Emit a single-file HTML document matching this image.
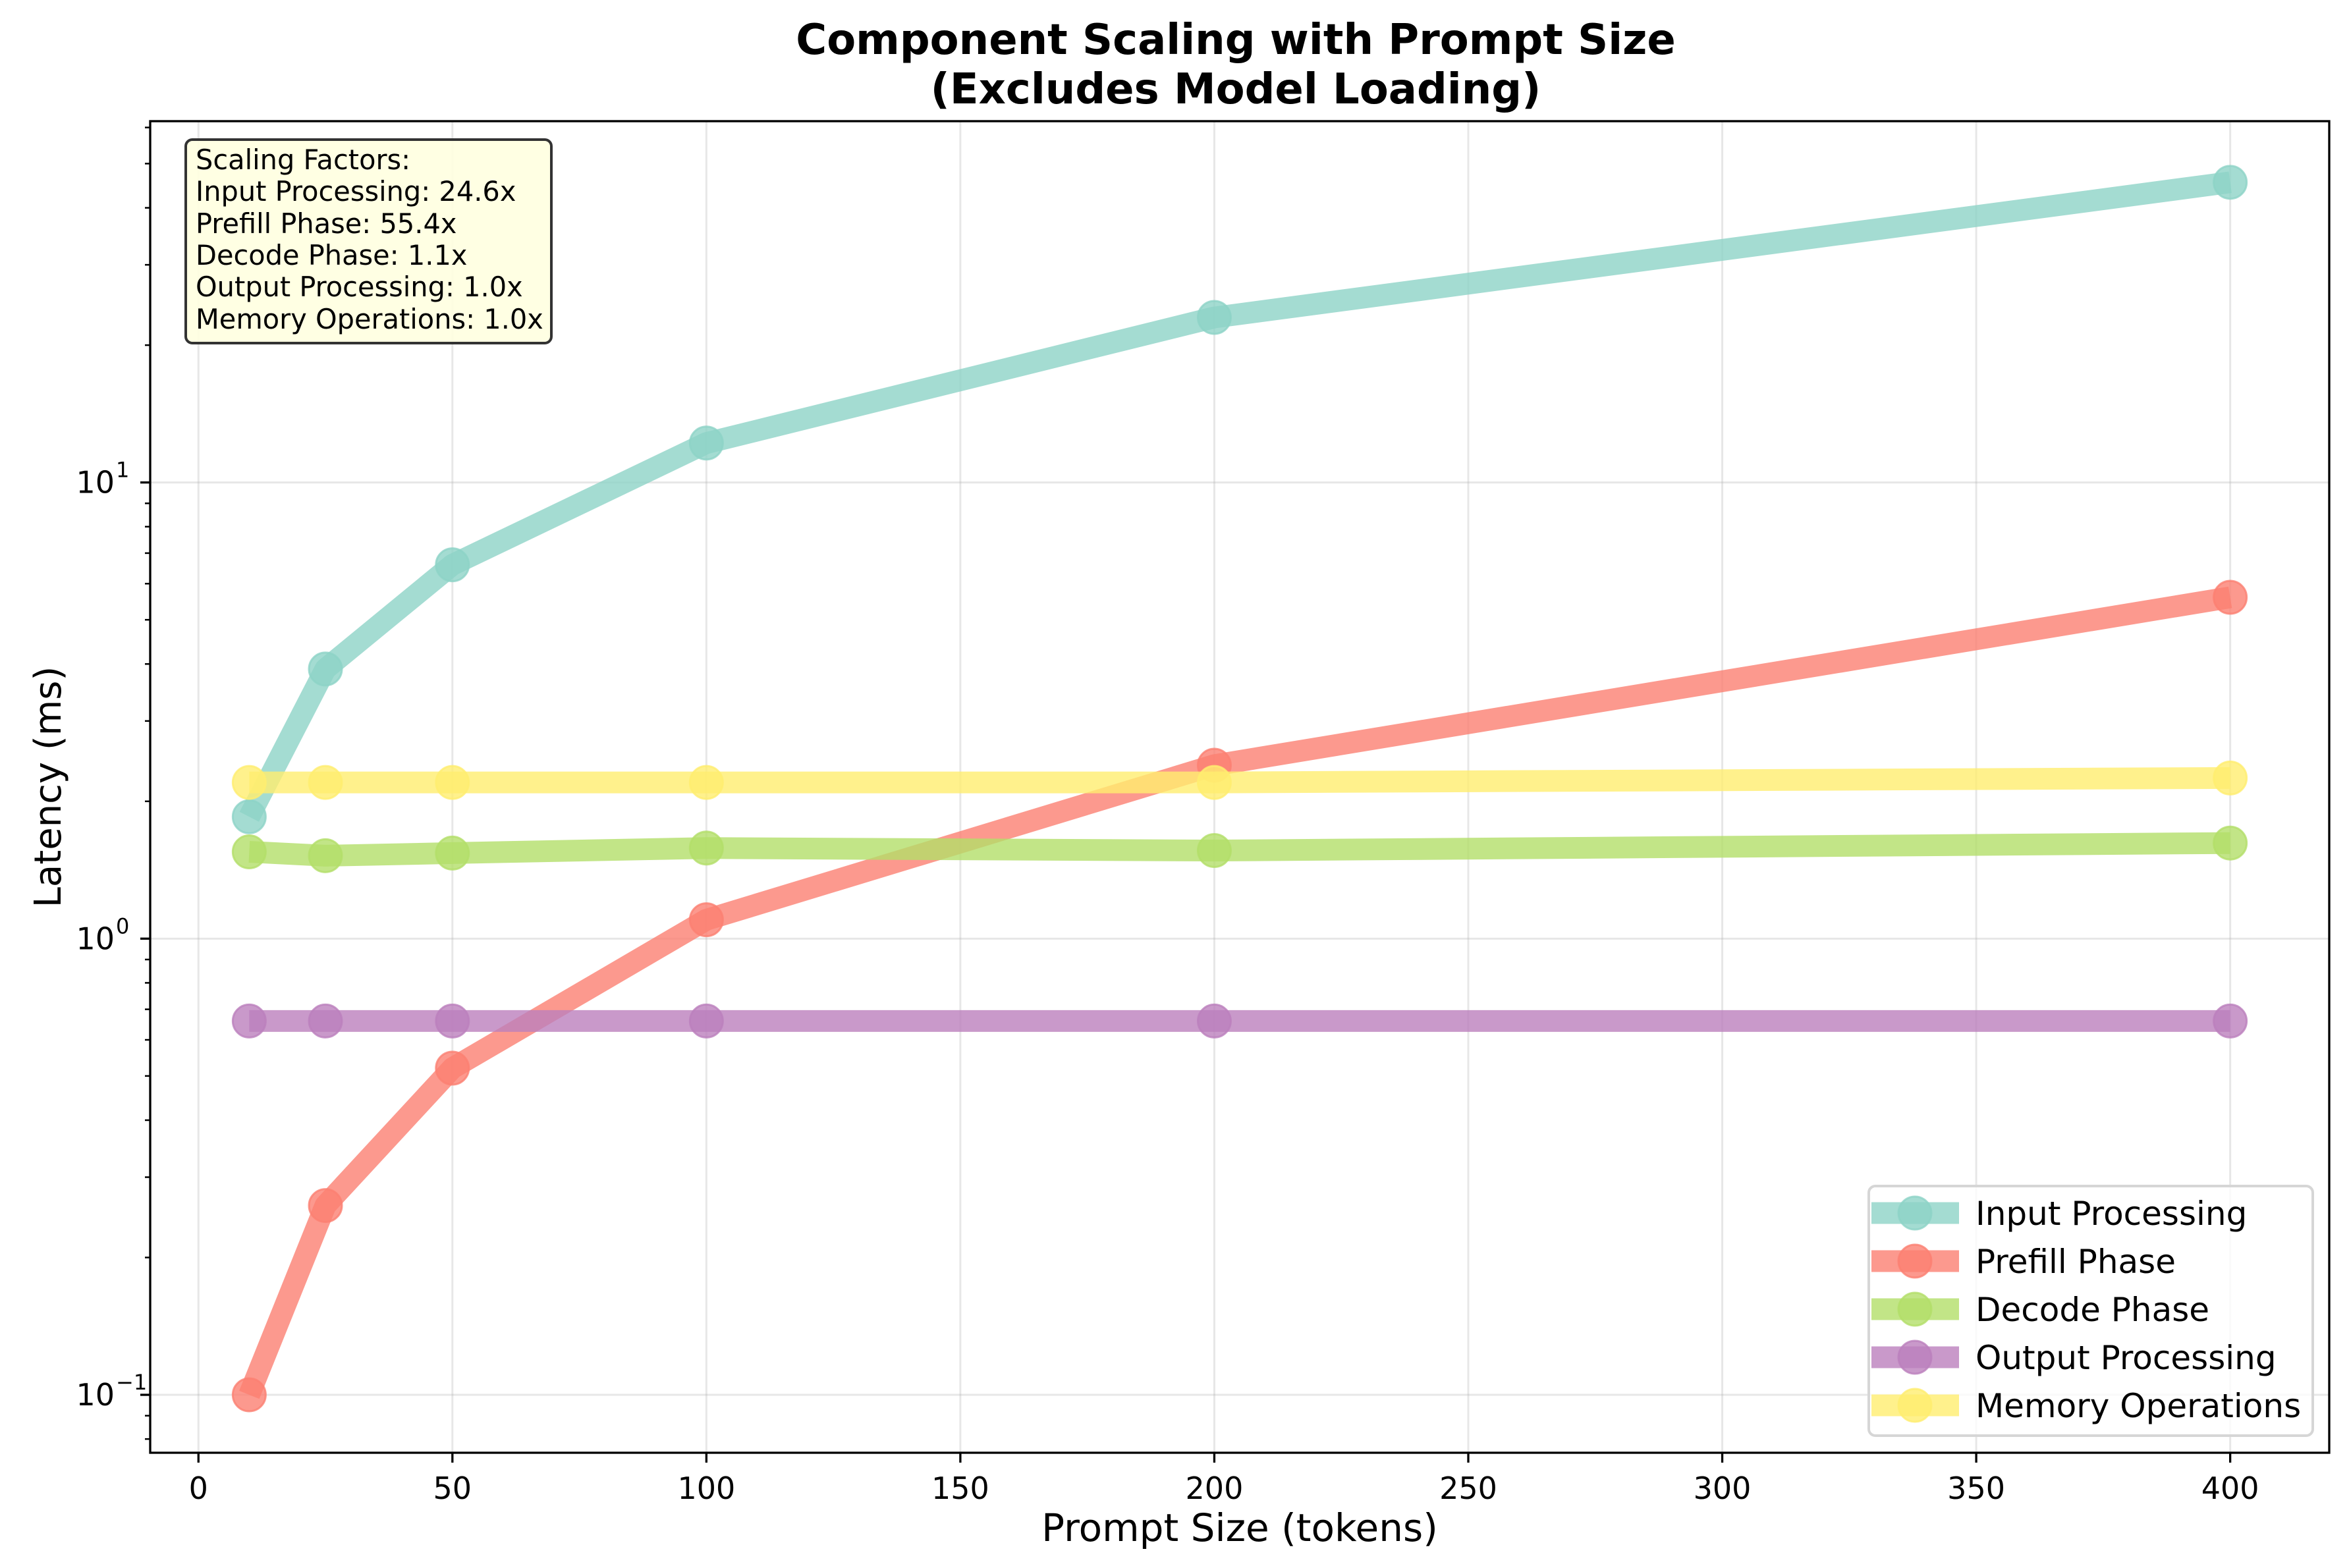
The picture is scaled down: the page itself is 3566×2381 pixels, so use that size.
<!DOCTYPE html>
<html><head><meta charset="utf-8">
<style>
html,body{margin:0;padding:0;background:#fff;}
svg{display:block;font-family:"DejaVu Sans","Liberation Sans",sans-serif;}
</style></head>
<body>
<svg id="chart" width="3566" height="2381" viewBox="0 0 3566 2381" xmlns="http://www.w3.org/2000/svg">
<rect width="3566" height="2381" fill="#fff"/>
<g id="grid"></g>
<g id="series"></g>
<g id="axes"></g>
<text x="1876" y="82" text-anchor="middle" font-size="64" font-weight="bold">Component Scaling with Prompt Size</text>
<text x="1876" y="157" text-anchor="middle" font-size="64" font-weight="bold">(Excludes Model Loading)</text>
<text x="1882" y="2340" text-anchor="middle" font-size="58">Prompt Size (tokens)</text>
<text transform="translate(92,1195) rotate(-90)" text-anchor="middle" font-size="56">Latency (ms)</text>
<g>
<rect x="282" y="212" width="555" height="309" rx="10" fill="#ffffe0" stroke="#333" stroke-width="4" fill-opacity="0.9"/>
<text font-size="41.5" x="297">
<tspan x="297" y="257">Scaling Factors:</tspan>
<tspan x="297" y="305">Input Processing: 24.6x</tspan>
<tspan x="297" y="354">Prefill Phase: 55.4x</tspan>
<tspan x="297" y="402">Decode Phase: 1.1x</tspan>
<tspan x="297" y="450">Output Processing: 1.0x</tspan>
<tspan x="297" y="499">Memory Operations: 1.0x</tspan>
</text>
</g>
<g id="legend">
<rect x="2837" y="1801" width="674" height="379" rx="10" fill="#fff" fill-opacity="0.8" stroke="#d6d6d6" stroke-width="4"/>
</g>
</svg>
<script>
const xValues=[10,25,50,100,200,400];
const seriesNames=["Input Processing","Prefill Phase","Decode Phase","Output Processing","Memory Operations"];
const inputProcessing=[1.85,3.9,6.6,12.2,23.0,45.5];
const prefillPhase=[0.1,0.26,0.52,1.1,2.4,5.6];
const decodePhase=[1.55,1.52,1.54,1.58,1.56,1.62];
const outputProcessing=[0.66,0.66,0.66,0.66,0.66,0.66];
const memoryOperations=[2.2,2.2,2.2,2.2,2.2,2.25];
const xTicks=[0,50,100,150,200,250,300,350,400];
const yDecades=[-1,0,1];

const NS="http://www.w3.org/2000/svg";
const L=228,R=3536,T=184,B=2206;
const xMin=-9.5,xMax=419.5,yMinL=-1.127,yMaxL=1.792;
const xs=v=>L+(v-xMin)/(xMax-xMin)*(R-L);
const ys=v=>B-(Math.log10(v)-yMinL)/(yMaxL-yMinL)*(B-T);
function mk(tag,attrs,parent){const e=document.createElementNS(NS,tag);for(const k in attrs)e.setAttribute(k,attrs[k]);parent.appendChild(e);return e;}
const grid=document.getElementById('grid'),axes=document.getElementById('axes'),series=document.getElementById('series'),legend=document.getElementById('legend');

xTicks.forEach(t=>{
  const x=xs(t);
  const g=mk('line',{x1:x,x2:x,y1:T,y2:B,stroke:'#b0b0b0','stroke-opacity':0.3,'stroke-width':3},grid);
  
  
  const tk=mk('line',{x1:x,x2:x,y1:B,y2:B+15,stroke:'#000','stroke-width':3.3},axes);
  
  
  const lb=mk('text',{x:x,y:B+70,'text-anchor':'middle','font-size':46},axes);
  lb.textContent=t;
  
  
});
yDecades.forEach(d=>{
  const y=ys(Math.pow(10,d));
  const g=mk('line',{x1:L,x2:R,y1:y,y2:y,stroke:'#b0b0b0','stroke-opacity':0.3,'stroke-width':3},grid);
  
  
  const tk=mk('line',{x1:L-15,x2:L,y1:y,y2:y,stroke:'#000','stroke-width':3.3},axes);
  
  
  const lb=mk('text',{x:L-54,y:y+16,'text-anchor':'end','font-size':46},axes);
  lb.textContent='10';
  
  
  const sp=mk('text',{x:L-52,y:y-8,'text-anchor':'start','font-size':32},axes);
  sp.textContent=d<0?'\u2212'+(-d):String(d);
  
  
});
for(let d=-2;d<=1;d++){for(let m=2;m<=9;m++){const v=m*Math.pow(10,d);const lv=Math.log10(v);if(lv<yMinL||lv>yMaxL)continue;const y=ys(v);
  const tk=mk('line',{x1:L-8,x2:L,y1:y,y2:y,stroke:'#000','stroke-width':2.5},axes);
  
  }}
const frame=mk('rect',{x:L,y:T,width:R-L,height:B-T,fill:'none',stroke:'#000','stroke-width':3.3},axes);



const data=[inputProcessing,prefillPhase,decodePhase,outputProcessing,memoryOperations];
const colors=['#8dd3c7','#fb8072','#b3de69','#bc80bd','#ffed6f'];
data.forEach((vals,i)=>{
  const g=mk('g',{},series);
  
  
  const pts=vals.map((v,j)=>xs(xValues[j])+','+ys(v)).join(' ');
  const pl=mk('polyline',{points:pts,fill:'none',stroke:colors[i],'stroke-opacity':0.8,'stroke-width':33,'stroke-linejoin':'round'},g);
  
  
  vals.forEach((v,j)=>{
    const c=mk('circle',{cx:xs(xValues[j]),cy:ys(v),r:25,fill:colors[i],'fill-opacity':0.8,stroke:colors[i],'stroke-opacity':0.8,'stroke-width':3},g);
    
    
  });
  const y=1842+i*73;
  const lg=mk('g',{},legend);
  
  
  mk('line',{x1:2841,x2:2974,y1:y,y2:y,stroke:colors[i],'stroke-opacity':0.8,'stroke-width':33},lg);
  mk('circle',{cx:2907,cy:y,r:25,fill:colors[i],'fill-opacity':0.8,stroke:colors[i],'stroke-opacity':0.8,'stroke-width':3},lg);
  const t=mk('text',{x:2999,y:y+18,'font-size':50},lg);
  t.textContent=seriesNames[i];
});
</script>
</body></html>
